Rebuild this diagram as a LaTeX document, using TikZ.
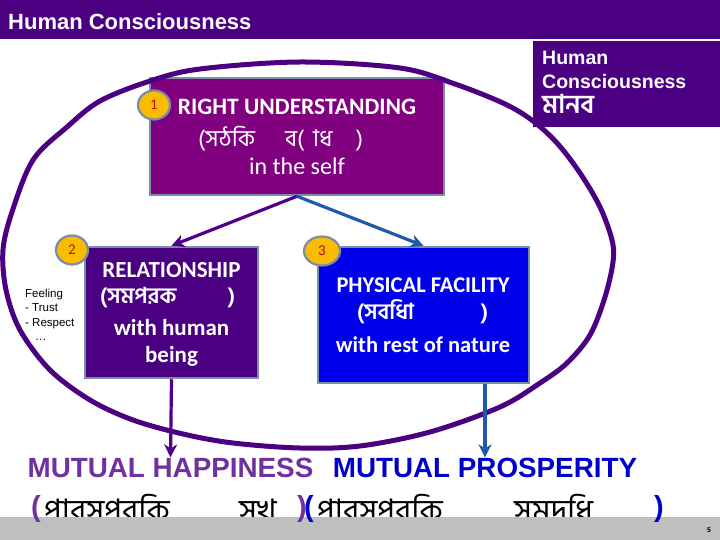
\documentclass[tikz,border=0pt]{standalone}
\usepackage{fontspec}
\usetikzlibrary{arrows.meta,shapes.geometric}
\newfontfamily\carlito{Carlito}
\newfontfamily\arialf{Liberation Sans}
\newfontfamily\bn[Script=Bengali]{Hind Siliguri}
\newcommand{\setfs}[1]{\fontsize{#1}{#1}\selectfont}
\newcommand{\bareaa}{\XeTeXglyph\XeTeXcharglyph"09BE\relax}
\definecolor{indigoc}{RGB}{75,0,130}
\definecolor{purplec}{RGB}{128,0,128}
\definecolor{bluebox}{RGB}{0,0,235}
\definecolor{bordc}{RGB}{122,142,170}
\definecolor{badgef}{RGB}{250,188,0}
\definecolor{badget}{RGB}{170,20,20}
\definecolor{arrowblue}{RGB}{30,90,170}
\definecolor{arrowpurple}{RGB}{80,0,140}
\definecolor{happyc}{RGB}{112,48,160}
\definecolor{prospc}{RGB}{0,0,204}
\definecolor{barc}{RGB}{191,191,191}
\tikzset{
  box/.style={draw=bordc, line width=2.5pt, inner sep=0pt},
  boxtxt/.style={text=white, font=\carlito\bfseries\setfs{23}, inner sep=0pt, anchor=base},
  bntxt/.style={text=white, font=\bn\bfseries\setfs{22}, inner sep=0pt, anchor=base west},
  badge/.style={ellipse, fill=badgef, draw=bordc, line width=2.2pt, minimum width=32pt, minimum height=29pt, inner sep=0pt, text=badget, font=\carlito\setfs{15}},
  conn/.style={line width=3.2pt, -{Stealth[length=13pt,width=13pt,inset=4pt]}},
  hctxt/.style={text=white, font=\arialf\bfseries\setfs{19.5}, inner sep=0pt, anchor=base west},
  feel/.style={font=\arialf\setfs{11.5}, inner sep=0pt, anchor=base west},
  mutual/.style={font=\arialf\bfseries\setfs{27.8}, inner sep=0pt, anchor=base},
  bnbot/.style={font=\bn\setfs{31}, inner sep=0pt, anchor=base west},
  paren/.style={font=\arialf\bfseries\setfs{29}, inner sep=0pt, anchor=base west}
}
\begin{document}
\begin{tikzpicture}[x=1pt,y=-1pt]
\useasboundingbox (0,0) rectangle (720,540);
% banner
\fill[indigoc] (0,0) rectangle (720,39);
\node[anchor=base west, text=white, font=\arialf\bfseries\setfs{22}, inner sep=0pt] (title) at (8,30) {Human Consciousness};

% box 1
\node[box, fill=purplec, minimum width=294pt, minimum height=117pt] (b1) at (297,136.5) {};
\node[boxtxt, font=\carlito\bfseries\setfs{23.5}] (b1a) at (297,115) {RIGHT UNDERSTANDING};
\node[bntxt, font=\bn\setfs{23}] (b1b) at (198,147) {\hbox to 165pt{(সঠকি\hskip 30pt ব(\hskip 9pt\bareaa ধ\hfil)}};
\node[boxtxt, font=\carlito\setfs{24}] (b1c) at (297,175) {in the self};

% big ring
\draw[indigoc, line width=5pt] plot[smooth cycle, tension=0.55] coordinates {
 (3,250) (12,212) (33,160) (67,127) (100,101) (150,81) (200,69) (300,62)
 (400,68) (455,84) (505,104) (533,121) (557,143) (580,173) (600,207)
 (612,240) (613,262) (605,297) (590,335) (567,363) (540,383) (500,407)
 (430,432) (360,446) (300,448) (233,443) (183,434) (133,420) (90,400)
 (50,370) (20,330) (6,290)};

% top right box
\node[fill=indigoc, minimum width=187pt, minimum height=86pt, anchor=north west, inner sep=0pt] (hc) at (533,41) {};
\node[hctxt] (hc1) at (542,65) {Human};
\node[hctxt] (hc2) at (542,89) {Consciousness};
\node[hctxt, font=\bn\bfseries\setfs{26}] (hc3) at (542,114) {মানব};

% box 2
\node[box, fill=indigoc, minimum width=173pt, minimum height=131pt] (b2) at (171.5,312.5) {};
\node[boxtxt] (b2a) at (171.5,277) {RELATIONSHIP};
\node[bntxt] (b2b) at (100,303) {\hbox to 135pt{(সমপরক\hfil)}};
\node[boxtxt] (b2c) at (171.5,335) {with human};
\node[boxtxt] (b2d) at (171.5,362) {being};

% box 3
\node[box, fill=bluebox, minimum width=211pt, minimum height=136pt] (b3) at (423.5,315) {};
\node[boxtxt, font=\carlito\bfseries\setfs{22.5}] (b3a) at (423,292) {PHYSICAL FACILITY};
\node[bntxt] (b3b) at (357,319) {\hbox to 131pt{(সবধিা\hfil)}};
\node[boxtxt, font=\carlito\bfseries\setfs{22.5}] (b3c) at (423,352) {with rest of nature};

% badges
\node[badge] (n1) at (154,105) {1};
\node[badge] (n2) at (72,250) {2};
\node[badge, minimum width=36pt] (n3) at (322,251) {3};

% feeling list
\node[feel] (f1) at (25,297) {Feeling};
\node[feel] (f2) at (25,311.5) {- Trust};
\node[feel] (f3) at (25,326) {- Respect};
\node[feel] (f4) at (35,340.5) {\ldots};

% mutual texts
\node[mutual, text=happyc] (happy) at (170.5,477) {MUTUAL HAPPINESS};
\node[mutual, text=prospc] (prosp) at (485,477) {MUTUAL PROSPERITY};

% connectors
\draw[conn, arrowpurple] (b1.south) -- (b2.north);
\draw[conn, arrowblue] (b1.south) -- (b3.north);
\draw[conn, arrowpurple] (b2.south) -- (happy.north);
\draw[conn, arrowblue] (prosp.north |- b3.south) -- (prosp.north);

% bottom bengali
\node[bnbot] (m1) at (44,521) {পারসপরকি};
\node[bnbot] (m2) at (239,521) {সখ};
\node[bnbot] (m3) at (317,521) {পারসপরকি};
\node[bnbot] (m4) at (514,521) {সমদধি};
\fill[barc] (0,517) rectangle (720,540);
\node[paren, text=happyc] (p1) at (31,516) {(};
\node[paren, text=happyc] (p2) at (297,516) {)};
\node[paren, text=prospc] (p3) at (304,516) {(};
\node[paren, text=prospc] (p4) at (654,516) {)};
\node[font=\arialf\bfseries\setfs{7}, inner sep=0pt] (pg) at (709,530) {5};
\end{tikzpicture}
\end{document}
